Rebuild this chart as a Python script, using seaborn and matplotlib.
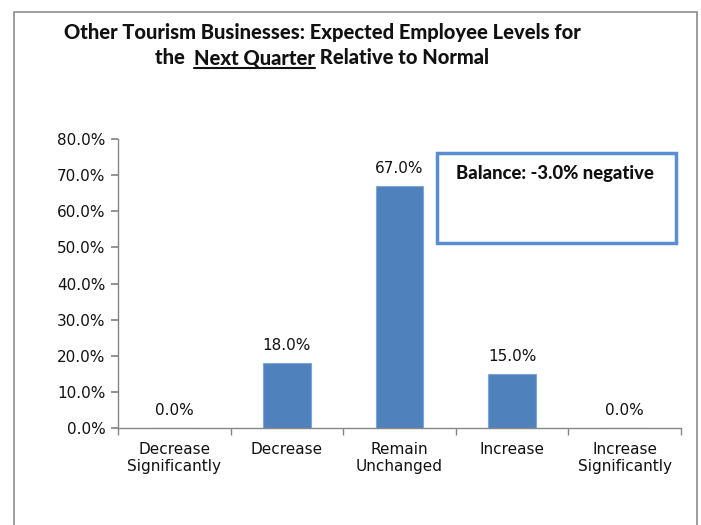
import matplotlib
matplotlib.use("Agg")
import matplotlib.pyplot as plt
import seaborn as sns
import pandas as pd
import numpy as np
from matplotlib.patches import Rectangle
from matplotlib.ticker import FixedLocator, FuncFormatter

categories = ["Decrease\nSignificantly", "Decrease", "Remain\nUnchanged", "Increase", "Increase\nSignificantly"]
values = [0.0, 18.0, 67.0, 15.0, 0.0]
title_line1 = "Other Tourism Businesses: Expected Employee Levels for"
title_line2 = ["the  ", "Next Quarter", " Relative to Normal"]
balance_text = "Balance: -3.0% negative"

sns.set_theme(style="white")
plt.rcParams['font.family'] = ['DejaVu Sans']

fig = plt.figure(figsize=(7.01, 5.25), dpi=100)
ax = fig.add_axes([118/701, 1-428/525, (681-118)/701, (428-139)/525])

df = pd.DataFrame({"cat": categories, "val": values})
sns.barplot(data=df, x="cat", y="val", color="#4F81BD", width=0.42, ax=ax, saturation=1,
            edgecolor="#7FA6D6", linewidth=0.8)

ax.set_ylim(0, 80)
ax.set_xlim(-0.5, 4.5)
ax.set_yticks(np.arange(0, 81, 10))
ax.yaxis.set_major_formatter(FuncFormatter(lambda v, p: f"{v:.1f}%"))
ax.set_xlabel("")
ax.set_ylabel("")
for s in ["top", "right"]:
    ax.spines[s].set_visible(False)
for s in ["left", "bottom"]:
    ax.spines[s].set_color("#868686")
    ax.spines[s].set_linewidth(1.0)
ax.tick_params(axis="y", which="major", left=True, length=5, color="#868686",
               labelsize=11, labelcolor="#111111", pad=4)
ax.tick_params(axis="x", which="major", bottom=False, labelsize=11, labelcolor="#111111", pad=4)
ax.xaxis.set_minor_locator(FixedLocator(np.arange(-0.5, 4.6, 1)))
ax.tick_params(axis="x", which="minor", bottom=True, length=5, color="#868686")
ax.grid(False)

for i, v in enumerate(values):
    ax.annotate(f"{v:.1f}%", xy=(i, v), xytext=(0, 12.5), textcoords="offset points",
                ha="center", va="center", fontsize=11, color="#111111")

# outer border
fig.patches.append(Rectangle((14/701, -0.05), (697-14)/701, 1.05 - 12/525,
                             transform=fig.transFigure, fill=False, edgecolor="#8c8c8c", lw=1.2))

tfam = ["Lato", "DejaVu Sans"]
tw = "black"

# balance box
fig.patches.append(Rectangle((437/701, 1-243/525), (676-437)/701, (243-153)/525,
                             transform=fig.transFigure, fill=True, facecolor="white",
                             edgecolor="#5B8DD3", lw=2.5, zorder=5))
fig.text(456/701, 1-173/525, balance_text, ha="left", va="center", fontsize=13.3,
         fontweight=tw, color="#111111", zorder=6, family=tfam)

fig.text(322/701, 1-33/525, title_line1, ha="center", va="center", fontsize=14.5,
         fontweight=tw, color="#111111", family=tfam)

# second line pieces
renderer = fig.canvas.get_renderer()
pieces = []
widths = []
for t in title_line2:
    tx = fig.text(0, 0, t, fontsize=14.5, fontweight=tw, family=tfam, color="#111111", va="center")
    bb = tx.get_window_extent(renderer=renderer)
    widths.append(bb.width)
    pieces.append(tx)
total = sum(widths)
x0 = 322 - total / 2
y = 525 - 58
for tx, w, t in zip(pieces, widths, title_line2):
    tx.set_position((x0 / 701, y / 525))
    if t == "Next Quarter":
        fig.add_artist(plt.Line2D([x0/701, (x0 + w)/701], [(y - 10)/525, (y - 10)/525],
                                  transform=fig.transFigure, color="#111111", lw=1.5))
    x0 += w

fig.savefig("out.png", dpi=100)
